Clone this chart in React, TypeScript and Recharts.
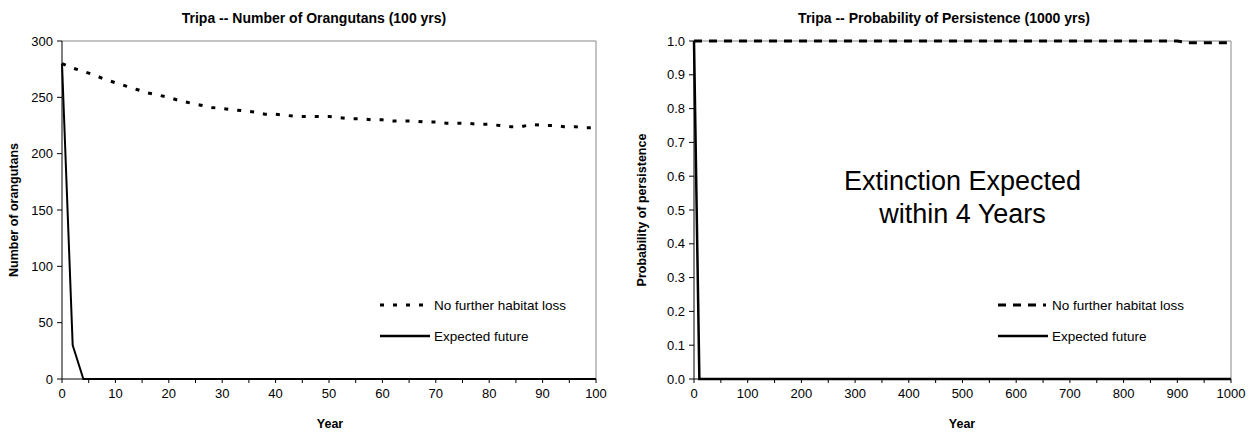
import React from 'react';
import { LineChart, Line, XAxis, YAxis, ReferenceLine } from 'recharts';

const FONT = '"Liberation Sans", Arial, Helvetica, sans-serif';

// Left chart: Number of orangutans (100 yrs)
const yearsA = [0, 2, 4, 6, 8, 10, 12, 14, 16, 18, 20, 22, 24, 26, 28, 30, 32, 34, 36, 38, 40, 42, 44, 46, 48, 50, 52, 54, 56, 58, 60, 62, 64, 66, 68, 70, 72, 74, 76, 78, 80, 82, 84, 86, 88, 90, 92, 94, 96, 98, 100];
const noLossA = [280, 276, 273, 270, 266, 263, 260, 257, 254, 252, 250, 247, 245, 243, 241, 240, 239, 238, 237, 235, 235, 234, 233, 233, 233, 233, 232, 231, 231, 230, 230, 229, 229, 229, 228, 228, 227, 227, 227, 226, 226, 225, 224, 224, 226, 225, 225, 224, 224, 223, 223];
const expectedA = [280, 30, 0, 0, 0, 0, 0, 0, 0, 0, 0, 0, 0, 0, 0, 0, 0, 0, 0, 0, 0, 0, 0, 0, 0, 0, 0, 0, 0, 0, 0, 0, 0, 0, 0, 0, 0, 0, 0, 0, 0, 0, 0, 0, 0, 0, 0, 0, 0, 0, 0];
const xTicksA = [0, 5, 10, 15, 20, 25, 30, 35, 40, 45, 50, 55, 60, 65, 70, 75, 80, 85, 90, 95, 100];
const yTicksA = [0, 50, 100, 150, 200, 250, 300];

// Right chart: Probability of persistence (1000 yrs)
const yearsB = [0, 10, 50, 100, 150, 200, 250, 300, 350, 400, 450, 500, 550, 600, 650, 700, 750, 800, 850, 900, 920, 950, 1000];
const noLossB = [1, 1, 1, 1, 1, 1, 1, 1, 1, 1, 1, 1, 1, 1, 1, 1, 1, 1, 1, 1, 0.995, 0.995, 0.995];
const expectedB = [1, 0, 0, 0, 0, 0, 0, 0, 0, 0, 0, 0, 0, 0, 0, 0, 0, 0, 0, 0, 0, 0, 0];
const xTicksB = [0, 50, 100, 150, 200, 250, 300, 350, 400, 450, 500, 550, 600, 650, 700, 750, 800, 850, 900, 950, 1000];
const yTicksB = [0, 0.1, 0.2, 0.3, 0.4, 0.5, 0.6, 0.7, 0.8, 0.9, 1.0];

const seriesNames = ['No further habitat loss', 'Expected future'];

const rowsA = yearsA.map((y, i) => ({ year: y, noLoss: noLossA[i], expected: expectedA[i] }));
const rowsB = yearsB.map((y, i) => ({ year: y, noLoss: noLossB[i], expected: expectedB[i] }));

const LegendBox = ({ dash, left, top }: { dash: string; left: number; top: number }) => (
  <svg width={240} height={50} style={{ position: 'absolute', left, top, overflow: 'visible' }}>
    <line x1={0} y1={8} x2={48} y2={8} stroke="#000" strokeWidth={3} strokeDasharray={dash} />
    <text x={54} y={8} dy="0.35em" fontSize={13.5} fontFamily={FONT} fill="#000">{seriesNames[0]}</text>
    <line x1={0} y1={39} x2={50} y2={39} stroke="#000" strokeWidth={2.5} />
    <text x={54} y={39} dy="0.35em" fontSize={13.5} fontFamily={FONT} fill="#000">{seriesNames[1]}</text>
  </svg>
);

const tickStyle = { fill: '#000', fontSize: 13, fontFamily: FONT };

const ChartTitle = ({ text, cx }: { text: string; cx: number }) => (
  <div style={{ position: 'absolute', left: cx - 250, width: 500, top: 9, textAlign: 'center', fontWeight: 'bold', fontSize: 14, fontFamily: FONT, lineHeight: '18px' }}>{text}</div>
);

const YTitle = ({ text, cx }: { text: string; cx: number }) => (
  <div style={{ position: 'absolute', left: cx - 150, top: 210 - 9, width: 300, height: 18, lineHeight: '18px', textAlign: 'center', fontWeight: 'bold', fontSize: 12.5, fontFamily: FONT, transform: 'rotate(-90deg)' }}>{text}</div>
);

const XTitle = ({ cx }: { cx: number }) => (
  <div style={{ position: 'absolute', left: cx - 50, width: 100, top: 416, textAlign: 'center', fontWeight: 'bold', fontSize: 12.5, fontFamily: FONT, lineHeight: '16px' }}>Year</div>
);

export default function App() {
  return (
    <div style={{ position: 'absolute', left: 0, top: 0, width: 1257, height: 435, background: '#fff', fontFamily: FONT, overflow: 'hidden' }}>
      <div style={{ position: 'absolute', left: 0, top: 0, width: 628, height: 435 }}>
        <LineChart width={628} height={435} data={rowsA} margin={{ top: 41, right: 32, bottom: 0, left: 0 }}>
          <XAxis type="number" dataKey="year" domain={[0, 100]} ticks={xTicksA} interval={0}
            tickFormatter={(v: number) => (v % 10 === 0 ? String(v) : '')}
            tick={tickStyle} tickLine={{ stroke: '#000' }} axisLine={{ stroke: '#000' }} tickSize={4} tickMargin={6} height={56} />
          <YAxis type="number" domain={[0, 300]} ticks={yTicksA} interval={0}
            tick={tickStyle} tickLine={{ stroke: '#000' }} axisLine={{ stroke: '#000' }} tickSize={5} tickMargin={4} width={62} />
          <ReferenceLine y={300} stroke="#888" strokeWidth={1} ifOverflow="visible" />
          <ReferenceLine x={100} stroke="#888" strokeWidth={1} ifOverflow="visible" />
          <Line dataKey="noLoss" stroke="#000" strokeWidth={3} strokeDasharray="4 9" dot={false} isAnimationActive={false} name={seriesNames[0]} />
          <Line dataKey="expected" stroke="#000" strokeWidth={2} dot={false} isAnimationActive={false} name={seriesNames[1]} />
        </LineChart>
        <LegendBox dash="4 9" left={380} top={297} />
        <ChartTitle text="Tripa -- Number of Orangutans (100 yrs)" cx={314} />
        <YTitle text="Number of orangutans" cx={14} />
        <XTitle cx={330} />
      </div>
      <div style={{ position: 'absolute', left: 632, top: 0, width: 625, height: 435 }}>
        <LineChart width={625} height={435} data={rowsB} margin={{ top: 41, right: 26, bottom: 0, left: 0 }}>
          <XAxis type="number" dataKey="year" domain={[0, 1000]} ticks={xTicksB} interval={0}
            tickFormatter={(v: number) => (v % 100 === 0 ? String(v) : '')}
            tick={tickStyle} tickLine={{ stroke: '#000' }} axisLine={{ stroke: '#000' }} tickSize={4} tickMargin={6} height={56} />
          <YAxis type="number" domain={[0, 1]} ticks={yTicksB} interval={0}
            tickFormatter={(v: number) => v.toFixed(1)}
            tick={tickStyle} tickLine={{ stroke: '#000' }} axisLine={{ stroke: '#000' }} tickSize={5} tickMargin={4} width={62} />
          <ReferenceLine y={1} stroke="#888" strokeWidth={1} ifOverflow="visible" />
          <ReferenceLine x={1000} stroke="#888" strokeWidth={1} ifOverflow="visible" />
          <Line dataKey="noLoss" stroke="#000" strokeWidth={3} strokeDasharray="8 7" dot={false} isAnimationActive={false} name={seriesNames[0]} />
          <Line dataKey="expected" stroke="#000" strokeWidth={2.5} dot={false} isAnimationActive={false} name={seriesNames[1]} />
        </LineChart>
        <LegendBox dash="8 7" left={366} top={297} />
        <ChartTitle text="Tripa -- Probability of Persistence (1000 yrs)" cx={312} />
        <YTitle text="Probability of persistence" cx={10} />
        <XTitle cx={330} />
        <div style={{ position: 'absolute', left: 62, width: 537, top: 165, textAlign: 'center', fontSize: 27, fontFamily: FONT, lineHeight: '33px' }}>
          Extinction Expected<br />within 4 Years
        </div>
      </div>
    </div>
  );
}
